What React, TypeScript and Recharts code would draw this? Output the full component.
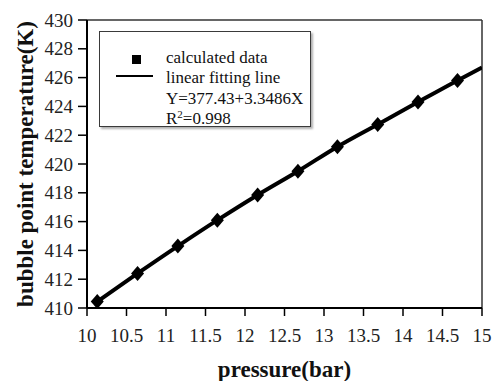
import {
  ComposedChart,
  Line,
  Scatter,
  XAxis,
  YAxis,
  ReferenceLine,
  Label
} from "recharts";

// pressure (bar) and calculated bubble point temperature (K)
const pressure = [10.13, 10.64, 11.15, 11.65, 12.16, 12.67, 13.17, 13.68, 14.19, 14.69];
const temperature = [410.45, 412.4, 414.3, 416.1, 417.85, 419.5, 421.2, 422.75, 424.3, 425.8];

// fitting line continues to the right edge of the axis
const fitEndX = 15;
const fitEndY = 426.7;

const xTicks = [10, 10.5, 11, 11.5, 12, 12.5, 13, 13.5, 14, 14.5, 15];
const yTicks = [410, 412, 414, 416, 418, 420, 422, 424, 426, 428, 430];

const legendLines = ["calculated data", "linear fitting line", "Y=377.43+3.3486X"];

const points = pressure.map((p, i) => ({ p, t: temperature[i] }));
const fitLine = [...points, { p: fitEndX, t: fitEndY }];

const serif = '"Times New Roman", "Liberation Serif", serif';
const tickFont = { fontFamily: serif, fontSize: 19, fill: "#222" };

const Diamond = (props: any) => {
  const { cx, cy } = props;
  if (cx == null || cy == null) return null;
  return (
    <polygon
      points={`${cx},${cy - 7.5} ${cx + 6.5},${cy} ${cx},${cy + 7.5} ${cx - 6.5},${cy}`}
      fill="#000"
    />
  );
};

const XTick = (props: any) => {
  const { x, y, payload } = props;
  return (
    <text x={x} y={y} dy="0.71em" textAnchor="middle" style={tickFont}>
      {payload.value}
    </text>
  );
};

const YTick = (props: any) => {
  const { x, y, payload } = props;
  return (
    <text x={x} y={y} dy="0.35em" textAnchor="end" style={tickFont}>
      {payload.value}
    </text>
  );
};

const LegendBox = () => (
  <div
    style={{
      position: "absolute",
      left: 99,
      top: 31,
      width: 210,
      height: 94,
      border: "1.5px solid #3a3a3a",
      boxShadow: "2px 2px 2px #b0b0b0",
      background: "#fff",
      fontFamily: serif,
      fontSize: 17,
      color: "#111"
    }}
  >
    <div style={{ position: "absolute", left: 32, top: 23, width: 9, height: 9, background: "#000" }} />
    <div style={{ position: "absolute", left: 16, top: 43, width: 37, height: 2, background: "#000" }} />
    <div style={{ position: "absolute", left: 66, top: 16, lineHeight: "20.4px", whiteSpace: "nowrap" }}>
      {legendLines.map((s) => (
        <div key={s}>{s}</div>
      ))}
      <div>
        R<span style={{ fontSize: 11, position: "relative", top: -6 }}>2</span>=0.998
      </div>
    </div>
  </div>
);

const YTitle = (props: any) => {
  const { viewBox } = props;
  const cx = viewBox.x + 25;
  const cy = viewBox.y + viewBox.height / 2;
  return (
    <text
      x={cx}
      y={cy}
      transform={`rotate(-90, ${cx}, ${cy})`}
      textAnchor="middle"
      dominantBaseline="central"
      style={{ fontFamily: serif, fontWeight: "bold", fontSize: 23 }}
      fill="#111"
    >
      bubble point temperature(K)
    </text>
  );
};

const XTitle = (props: any) => {
  const { viewBox } = props;
  return (
    <text
      x={viewBox.x + viewBox.width / 2}
      y={viewBox.y + 69}
      textAnchor="middle"
      style={{ fontFamily: serif, fontWeight: "bold", fontSize: 23 }}
      fill="#111"
    >
      pressure(bar)
    </text>
  );
};

export default function App() {
  return (
    <div
      style={{
        position: "absolute",
        left: 0,
        top: 0,
        width: 494,
        height: 381,
        background: "#fff",
        fontFamily: serif
      }}
    >
      <ComposedChart
        width={494}
        height={381}
        margin={{ top: 20, right: 12, bottom: 33, left: 0 }}
      >
        <XAxis
          type="number"
          dataKey="p"
          domain={[10, 15]}
          ticks={xTicks}
          interval={0}
          allowDataOverflow
          height={40}
          tickSize={8}
          tickMargin={13}
          axisLine={{ stroke: "#000", strokeWidth: 2 }}
          tickLine={{ stroke: "#000", strokeWidth: 1.5 }}
          tick={XTick}
        >
          <Label content={XTitle} />
        </XAxis>
        <YAxis
          type="number"
          dataKey="t"
          domain={[410, 430]}
          ticks={yTicks}
          interval={0}
          allowDataOverflow
          width={87}
          tickSize={9}
          tickMargin={5}
          axisLine={{ stroke: "#000", strokeWidth: 2 }}
          tickLine={{ stroke: "#000", strokeWidth: 1.5 }}
          tick={YTick}
        >
          <Label content={YTitle} />
        </YAxis>
        <ReferenceLine y={430} stroke="#333" strokeWidth={1.5} />
        <ReferenceLine x={15} stroke="#333" strokeWidth={1.5} />
        <Line
          data={fitLine}
          dataKey="t"
          type="monotone"
          stroke="#000"
          strokeWidth={4}
          dot={false}
          activeDot={false}
          isAnimationActive={false}
        />
        <Scatter data={points} dataKey="t" shape={Diamond} isAnimationActive={false} />
      </ComposedChart>
      <LegendBox />
    </div>
  );
}
